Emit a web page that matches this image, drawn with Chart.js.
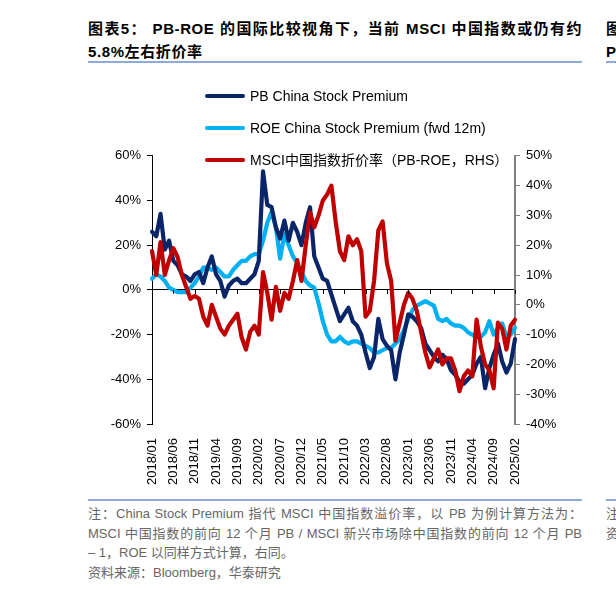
<!DOCTYPE html>
<html>
<head>
<meta charset="utf-8">
<script src="https://cdn.jsdelivr.net/npm/chart.js@4.4.1/dist/chart.umd.min.js"></script>
<style>
  html, body { margin: 0; padding: 0; background: #fff; }
  body { width: 616px; height: 590px; position: relative; overflow: hidden;
         font-family: "Liberation Sans", Arial, "Noto Sans CJK SC", sans-serif; }
  .title { position: absolute; left: 88px; top: 17px; width: 494px; font-size: 15px; font-weight: bold;
           line-height: 23px; color: #000; letter-spacing: 0.6px; }
  .title div { text-align-last: justify; }
  .title div.last { text-align-last: left; }
  .rule { position: absolute; height: 2px; background: #8eaad6; }
  .side { position: absolute; left: 606px; font-size: 15px; font-weight: bold; line-height: 23px; white-space: nowrap; }
  .note { position: absolute; left: 88px; top: 504px; width: 494px; font-size: 13px; line-height: 19.5px; color: #666; }
  .note div.j { text-align-last: justify; }
  .note2 { position: absolute; left: 606px; top: 504px; font-size: 13px; line-height: 19.5px; color: #666; white-space: nowrap; }
  #wrap { position: absolute; left: 60px; top: 142px; width: 520px; height: 352px; }
  .legend { position: absolute; left: 205px; top: 86px; font-size: 14px; color: #000; }
  .legend .row { position: relative; height: 32px; line-height: 20px; }
  .legend .sw { position: absolute; left: 0; top: 8px; width: 40px; height: 4px; border-radius: 2px; }
  .legend .tx { position: absolute; left: 45px; top: 0; white-space: nowrap; }
</style>
</head>
<body>
<div class="title">
  <div>图表5： PB-ROE 的国际比较视角下，当前 MSCI 中国指数或仍有约</div>
  <div class="last">5.8%左右折价率</div>
</div>
<div class="side" style="top:17px">图表6：</div>
<div class="side" style="top:40px">PE</div>
<div class="rule" style="left:88px; top:61px; width:494px"></div>
<div class="rule" style="left:606px; top:61px; width:20px"></div>

<div id="wrap"><canvas id="chart"></canvas></div>

<div class="legend">
  <div class="row"><span class="sw" style="background:#0b2569"></span><span class="tx">PB China Stock Premium</span></div>
  <div class="row"><span class="sw" style="background:#00b0f0"></span><span class="tx">ROE China Stock Premium (fwd 12m)</span></div>
  <div class="row"><span class="sw" style="background:#c00000"></span><span class="tx">MSCI中国指数折价率（PB-ROE，RHS）</span></div>
</div>

<div class="rule" style="left:88px; top:499px; width:494px"></div>
<div class="rule" style="left:606px; top:499px; width:20px"></div>
<div class="note">
  <div class="j">注：China Stock Premium 指代 MSCI 中国指数溢价率，以 PB 为例计算方法为：</div>
  <div class="j">MSCI 中国指数的前向 12 个月 PB / MSCI 新兴市场除中国指数的前向 12 个月 PB</div>
  <div>– 1，ROE 以同样方式计算，右同。</div>
  <div>资料来源：Bloomberg，华泰研究</div>
</div>
<div class="note2"><div>注：</div><div>资料</div></div>

<script>
// 月度数据 2018/01 - 2025/02
const months = [];
for (let y = 2018; y <= 2025; y++) {
  for (let m = 1; m <= 12; m++) {
    if (y === 2025 && m > 2) break;
    months.push(y + "/" + String(m).padStart(2, "0"));
  }
}
const tickLabels = ["2018/01", "2018/06", "2018/11", "2019/04", "2019/09", "2020/02", "2020/07", "2020/12",
  "2021/05", "2021/10", "2022/03", "2022/08", "2023/01", "2023/06", "2023/11", "2024/04", "2024/09", "2025/02"];

// PB China Stock Premium (%)
const pbPremium = [26, 24, 34, 18, 22, 13, 11, 7, 6, 4, 7, 8, 3, 10, 15, 7, 4, -3, 2, 4,
  5, 3, 3, 5, 7, 13, 53, 38, 37, 28, 23, 31, 22, 30, 26, 20, 30, 37, 15, 10,
  5, 4, -2, -8, -14, -11, -8, -14, -16, -20, -28, -35, -30, -13, -22, -25, -27, -40, -28, -20,
  -11, -12, -14, -17, -24, -27, -30, -32, -29, -31, -36, -38, -41, -42, -40, -38, -33, -30, -44, -35,
  -29, -24, -32, -37, -33, -22];

// ROE China Stock Premium (fwd 12m, %)
const roePremium = [5, 7, 6, 4, 1, 0, -1, -1, -1, 1, 3, 6, 10, 10, 9, 10, 8, 6, 6, 9,
  11, 13, 13, 15, 16, 16, 22, 30, 35, 28, 14, 25, 20, 15, 12, 8, 4, 2, 1, -6,
  -14, -20, -23, -23, -21, -23, -24, -23, -23, -24, -25, -26, -28, -28, -27, -26, -26, -24, -22, -18,
  -13, -9, -7, -6, -5, -6, -7, -13, -14, -13, -15, -16, -16, -17, -19, -20, -21, -21, -19, -14,
  -20, -17, -15, -21, -20, -17];

// MSCI中国指数折价率 (PB-ROE, RHS, %)
const discount = [18, 10, 21, 10, 15, 19, 16, 10, 6, 2, 3, 2, -4, -7, 0, -4, -8, -10, -7, -5,
  -3, -11, -15, -9, -7, -10, 11, 4, -5, 6, -2, 4, 2, 8, 15, 8, 20, 31, 26, 30,
  35, 37, 40, 28, 18, 15, 23, 20, 22, 18, -4, -2, 8, 25, 28, 14, 8, -12, -6, 0,
  4, 2, -2, -9, -16, -21, -18, -15, -20, -18, -18, -22, -29, -24, -22, -24, -5, -14, -20, -22,
  -28, -6, -8, -15, -7, -5];

const zeroTicks = {
  id: "zeroTicks",
  afterDatasetsDraw(chart) {
    const { ctx, scales: { x, y } } = chart;
    const y0 = y.getPixelForValue(0);
    ctx.save();
    ctx.strokeStyle = "#000";
    ctx.lineWidth = 1;
    months.forEach((m, i) => {
      if (i % 5 !== 0) return;
      const px = Math.round(x.getPixelForValue(i)) + 0.5;
      ctx.beginPath();
      ctx.moveTo(px, y0);
      ctx.lineTo(px, y0 + 4);
      ctx.stroke();
    });
    ctx.restore();
  }
};

const tickFont = { family: "'Liberation Sans', Arial, sans-serif", size: 13 };

new Chart(document.getElementById("chart"), {
  type: "line",
  data: {
    labels: months,
    datasets: [
      { label: "MSCI中国指数折价率（PB-ROE，RHS）", data: discount, yAxisID: "y1",
        borderColor: "#c00000", order: 1 },
      { label: "PB China Stock Premium", data: pbPremium, yAxisID: "y",
        borderColor: "#0b2569", order: 2 },
      { label: "ROE China Stock Premium (fwd 12m)", data: roePremium, yAxisID: "y",
        borderColor: "#00b0f0", order: 3 }
    ]
  },
  options: {
    responsive: true,
    maintainAspectRatio: false,
    animation: false,
    layout: { padding: { top: 7 } },
    elements: {
      line: { borderWidth: 4.2, tension: 0, borderJoinStyle: "round", borderCapStyle: "round" },
      point: { radius: 0 }
    },
    plugins: { legend: { display: false }, tooltip: { enabled: false } },
    scales: {
      x: {
        grid: { display: false },
        border: { display: false },
        ticks: {
          autoSkip: false, minRotation: 90, maxRotation: 90, padding: 6,
          color: "#000", font: tickFont,
          callback: (v, i) => tickLabels.includes(months[i]) ? months[i] : ""
        },
        afterFit: s => { s.height = 70; }
      },
      y: {
        position: "left", min: -60, max: 60,
        border: { display: true, color: "#000", width: 1 },
        grid: { color: c => c.tick.value === 0 ? "#000" : "transparent", tickColor: "#000", tickLength: 5 },
        ticks: { stepSize: 20, padding: 6, color: "#000", font: tickFont, callback: v => v + "%" },
        afterFit: s => { s.width = 92; }
      },
      y1: {
        position: "right", min: -40, max: 50,
        border: { display: true, color: "#7f7f7f", width: 2 },
        grid: { drawOnChartArea: false, tickColor: "#7f7f7f", tickLength: 5 },
        ticks: { stepSize: 10, padding: 6, color: "#000", font: tickFont, callback: v => v + "%" },
        afterFit: s => { s.width = 65; }
      }
    }
  },
  plugins: [zeroTicks]
});
</script>
</body>
</html>
